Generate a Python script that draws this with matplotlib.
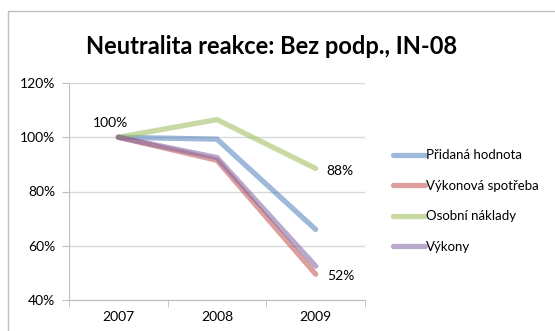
import matplotlib
matplotlib.use("Agg")
import matplotlib.pyplot as plt
from matplotlib.patches import Rectangle
from matplotlib.ticker import FixedLocator, FuncFormatter

years = ["2007", "2008", "2009"]
series_names = ["Přidaná hodnota", "Výkonová spotřeba", "Osobní náklady", "Výkony"]
pridana = [1.00, 0.993, 0.66]
vykonova = [1.00, 0.915, 0.495]
osobni = [1.00, 1.065, 0.885]
vykony = [1.00, 0.925, 0.525]
colors = ["#4F81BD", "#C0504D", "#9BBB59", "#8064A2"]
yticks = [0.4, 0.6, 0.8, 1.0, 1.2]

plt.rcParams['font.family'] = ['Lato', 'DejaVu Sans']

fig = plt.figure(figsize=(5.55, 3.31), dpi=100)
fig.patches.append(Rectangle((8/555, -0.1), 1.0, 1 - 11/331 + 0.1, transform=fig.transFigure,
                             fill=False, edgecolor="#BFBFBF", linewidth=1.0))
ax = fig.add_axes([69/555, 1 - 300/331, (365 - 69)/555, (300 - 83)/331])

x = list(range(len(years)))
data = [pridana, vykonova, osobni, vykony]
for name, vals, c in zip(series_names, data, colors):
    ax.plot(x, vals, color=c, alpha=0.55, linewidth=3.8, solid_capstyle='round',
            solid_joinstyle='miter', label=name)

ax.set_xlim(-0.5, 2.5)
ax.set_ylim(0.4, 1.2)
ax.yaxis.set_major_locator(FixedLocator(yticks))
ax.yaxis.set_major_formatter(FuncFormatter(lambda v, p: f"{v*100:.0f}%"))
ax.grid(axis='y', color="#D9D9D9", linewidth=1.0)
ax.set_axisbelow(True)
ax.set_xticks(x)
ax.set_xticklabels(years)
ax.set_xticks([-0.5, 0.5, 1.5, 2.5], minor=True)
ax.tick_params(axis='x', which='major', length=0, pad=8, labelsize=10, colors='black')
ax.tick_params(axis='x', which='minor', length=5, color="#BFBFBF", direction='out')
ax.tick_params(axis='y', length=5, color="#BFBFBF", labelsize=10, pad=5)
for s in ['top', 'right']:
    ax.spines[s].set_visible(False)
for s in ['left', 'bottom']:
    ax.spines[s].set_color("#BFBFBF")

ax.annotate(f"{pridana[0]*100:.0f}%", (x[0], pridana[0]), xytext=(-6, 6), textcoords='offset points',
            ha='center', va='bottom', fontsize=10)
ax.annotate(f"{int(osobni[2]*100)}%", (x[2], osobni[2]), xytext=(8, -2), textcoords='offset points',
            ha='left', va='center', fontsize=10)
ax.annotate(f"{int(vykony[2]*100)}%", (x[2], vykony[2]), xytext=(8, -7), textcoords='offset points',
            ha='left', va='center', fontsize=10)

fig.text(272/555, 1 - 47/331, "Neutralita reakce: Bez podp., IN-08", ha='center', va='center',
         fontsize=17, fontweight='bold')

leg = fig.legend(loc='upper left', bbox_to_anchor=(388/555, 1 - 144/331), frameon=False,
                 fontsize=9.5, handlelength=2.4, handletextpad=0.1, labelspacing=1.4,
                 borderaxespad=0)

fig.savefig("out.png", dpi=100)
